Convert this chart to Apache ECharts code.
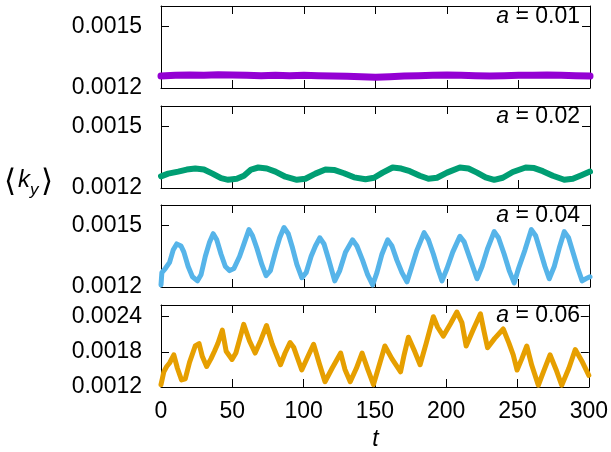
<!DOCTYPE html>
<html>
<head>
<meta charset="utf-8">
<script src="https://cdn.jsdelivr.net/npm/echarts@6/dist/echarts.min.js"></script>
<style>
  html, body { margin: 0; padding: 0; background: #fff; }
  #main { width: 611px; height: 452px; }
</style>
</head>
<body>
<div id="main"></div>
<script>
// <k_y>(t), one array of [t, value] per panel
const a01 = [[0,0.001258],[10,0.001262],[20,0.001264],[30,0.001262],[40,0.001265],[50,0.001264],[60,0.001262],[70,0.00126],[80,0.001262],[90,0.00126],[100,0.001262],[110,0.00126],[120,0.001258],[130,0.001257],[140,0.001255],[150,0.001253],[160,0.001255],[170,0.001258],[180,0.00126],[190,0.001262],[200,0.001263],[210,0.001262],[220,0.00126],[230,0.001258],[240,0.00126],[250,0.001262],[260,0.001262],[270,0.001263],[280,0.001262],[290,0.00126],[300,0.001258]]

const a02 = [[0,0.001257],[5,0.00127],[12,0.00128],[18,0.00129],[24,0.001295],[30,0.00129],[36,0.00127],[42,0.001248],[47,0.00124],[53,0.001245],[58,0.00126],[63,0.00129],[68,0.0013],[74,0.001295],[80,0.00128],[87,0.001255],[95,0.00124],[101,0.001245],[108,0.00127],[115,0.00129],[121,0.001288],[128,0.001272],[135,0.001252],[143,0.001243],[149,0.00125],[155,0.001275],[162,0.0013],[168,0.001295],[174,0.001282],[181,0.00126],[187,0.001245],[193,0.00125],[200,0.001275],[209,0.0013],[215,0.001295],[221,0.001275],[227,0.001252],[233,0.00124],[239,0.00125],[246,0.001278],[255,0.0013],[261,0.001297],[267,0.001282],[274,0.00126],[282,0.00124],[288,0.001245],[294,0.001262],[300,0.00128]]

const a04 = [[0,0.00121],[0.6,0.00127],[3,0.00129],[6,0.00132],[8.5,0.00138],[11,0.00141],[14,0.0014],[16,0.00137],[19,0.0013],[22,0.00125],[25.5,0.00123],[28,0.00126],[31,0.00135],[34,0.00142],[36.5,0.00146],[39,0.00143],[42,0.00136],[45,0.0013],[48,0.00128],[51,0.00129],[55,0.00135],[58.5,0.00142],[61.5,0.00148],[64,0.00145],[67,0.00139],[70.5,0.00131],[73.5,0.001255],[76.5,0.00128],[80,0.00137],[83,0.00144],[86,0.00149],[89,0.00146],[92,0.00139],[95,0.00131],[98.5,0.001245],[101.5,0.00127],[105,0.00135],[108,0.0014],[111,0.00144],[114,0.00141],[117,0.00134],[121.5,0.00123],[125,0.00128],[129,0.00137],[134,0.00143],[137,0.0014],[141,0.00133],[144.5,0.00126],[148,0.00121],[151,0.00127],[154.5,0.00136],[158.5,0.00143],[161.5,0.0014],[165,0.00133],[168.5,0.00127],[172,0.001225],[175,0.00129],[179,0.00138],[184,0.001465],[187,0.00143],[190.5,0.00136],[193.5,0.00129],[196.5,0.00123],[200,0.00129],[204,0.00137],[209,0.001447],[212,0.00142],[215.5,0.00135],[218.5,0.00129],[221,0.00124],[224.5,0.0013],[228.5,0.00139],[233,0.00147],[236,0.00144],[240,0.00136],[243.5,0.00128],[247,0.00122],[250,0.00129],[254.5,0.00138],[259,0.00148],[262,0.00145],[265.5,0.00137],[268.5,0.0013],[271.5,0.00124],[275,0.0013],[278.5,0.00139],[282,0.00147],[285,0.00144],[288.5,0.00136],[291.5,0.00129],[294.5,0.00123],[297,0.00124],[300,0.00125]]

const a06 = [[0,0.00124],[1,0.00135],[2,0.00146],[4,0.00155],[6,0.00161],[9,0.00175],[11.5,0.00152],[14.4,0.00132],[17,0.00134],[20,0.00162],[24,0.0019],[26.7,0.00194],[29,0.00172],[32,0.00155],[35,0.00168],[37.5,0.00181],[40,0.00195],[43,0.00217],[45.7,0.00181],[49.8,0.00167],[52.5,0.00178],[55,0.002],[58,0.00227],[62,0.00199],[66,0.00178],[70,0.002],[74,0.00225],[78,0.00193],[83.8,0.00158],[87,0.00178],[90.5,0.00196],[93,0.00188],[98.7,0.00149],[103,0.00172],[107,0.00193],[111,0.0016],[115,0.00129],[120,0.00152],[126,0.00178],[129,0.0015],[132.7,0.00129],[137,0.00152],[141,0.00178],[145,0.0015],[149,0.00124],[153,0.00157],[157,0.0019],[162,0.00168],[168,0.00146],[170.5,0.00175],[173.5,0.00205],[178,0.0018],[181.7,0.00158],[186,0.00195],[191,0.0024],[194,0.00222],[198,0.00207],[203,0.00228],[207.5,0.00248],[211,0.0023],[214,0.0019],[219,0.00218],[224,0.00245],[226.5,0.00215],[229,0.00187],[234,0.00203],[240,0.00219],[244,0.00195],[247,0.00175],[249.7,0.00149],[253,0.00168],[256.5,0.0019],[260,0.00157],[264.6,0.00123],[268.5,0.00148],[272.8,0.00175],[277,0.0015],[281,0.00123],[286,0.00152],[290.5,0.00184],[295,0.00165],[300,0.0014]]

const panelData = [a01, a02, a04, a06]
const panelNames = ['0.01', '0.02', '0.04', '0.06']
const yMin = [0.0012, 0.0012, 0.0012, 0.0012]
const yMax = [0.0016, 0.0016, 0.0016, 0.0026]
const yStep = [0.0003, 0.0003, 0.0003, 0.0006]
const xTicks = [0, 50, 100, 150, 200, 250, 300]

const colors = ['#9400D3', '#009E73', '#56B4E9', '#E69F00']
const widths = [7, 6, 5, 5]
const tops = [6, 106, 205, 305]
const font = "'Liberation Sans', Arial, sans-serif"

const myChart = echarts.init(document.getElementById('main'), null, { renderer: 'canvas' })

const line = { show: true, onZero: false, lineStyle: { color: '#000', width: 1 } }
const tick = { show: true, inside: true, length: 8, lineStyle: { color: '#000', width: 1 } }

const grid = []
const xAxis = []
const yAxis = []
const series = []
const graphic = []

panelData.forEach((data, i) => {
  grid.push({ left: 161, width: 429, top: tops[i], height: 82 })

  const xBase = {
    gridIndex: i, type: 'value', min: xTicks[0], max: xTicks[xTicks.length - 1],
    interval: xTicks[1] - xTicks[0],
    axisLine: line, axisTick: tick, splitLine: { show: false }
  }
  xAxis.push(Object.assign({}, xBase, {
    position: 'bottom',
    axisLabel: { show: i === panelData.length - 1, fontSize: 23, fontFamily: font, color: '#000', margin: 13 }
  }))
  xAxis.push(Object.assign({}, xBase, { position: 'top', axisLabel: { show: false } }))

  const yBase = {
    gridIndex: i, type: 'value', min: yMin[i], max: yMax[i], interval: yStep[i],
    axisLine: line, axisTick: tick, splitLine: { show: false }
  }
  yAxis.push(Object.assign({}, yBase, {
    position: 'left',
    axisLabel: {
      fontSize: 23, fontFamily: font, color: '#000', margin: 19,
      showMaxLabel: false,
      formatter: v => v.toFixed(4)
    }
  }))
  yAxis.push(Object.assign({}, yBase, { position: 'right', axisLabel: { show: false } }))

  series.push({
    type: 'line',
    xAxisIndex: 2 * i,
    yAxisIndex: 2 * i,
    data,
    showSymbol: false,
    animation: false,
    lineStyle: { color: colors[i], width: widths[i], join: 'round', cap: 'round' }
  })

  graphic.push({
    type: 'text', x: 580, y: tops[i] - 1,
    style: {
      text: '{i|a} = ' + panelNames[i],
      fill: '#000', fontSize: 23, fontFamily: font,
      textAlign: 'right', textVerticalAlign: 'top',
      rich: { i: { fontStyle: 'italic', fontSize: 23, fontFamily: font } }
    }
  })
})

// axis titles
graphic.push(
  { type: 'text', x: 4, y: 183, style: { text: '⟨', fill: '#000', fontSize: 31, fontFamily: "'DejaVu Sans'", textVerticalAlign: 'middle' } },
  { type: 'text', x: 18, y: 180, style: { text: 'k', fill: '#000', fontSize: 24, fontStyle: 'italic', fontFamily: font, textVerticalAlign: 'middle' } },
  { type: 'text', x: 30, y: 190, style: { text: 'y', fill: '#000', fontSize: 17, fontStyle: 'italic', fontFamily: font, textVerticalAlign: 'middle' } },
  { type: 'text', x: 41, y: 183, style: { text: '⟩', fill: '#000', fontSize: 31, fontFamily: "'DejaVu Sans'", textVerticalAlign: 'middle' } },
  { type: 'text', x: 375.5, y: 440, style: { text: 't', fill: '#000', fontSize: 23, fontStyle: 'italic', fontFamily: font, textAlign: 'center', textVerticalAlign: 'middle' } }
)

myChart.setOption({
  animation: false,
  grid,
  xAxis,
  yAxis,
  series,
  graphic
})
</script>
</body>
</html>
